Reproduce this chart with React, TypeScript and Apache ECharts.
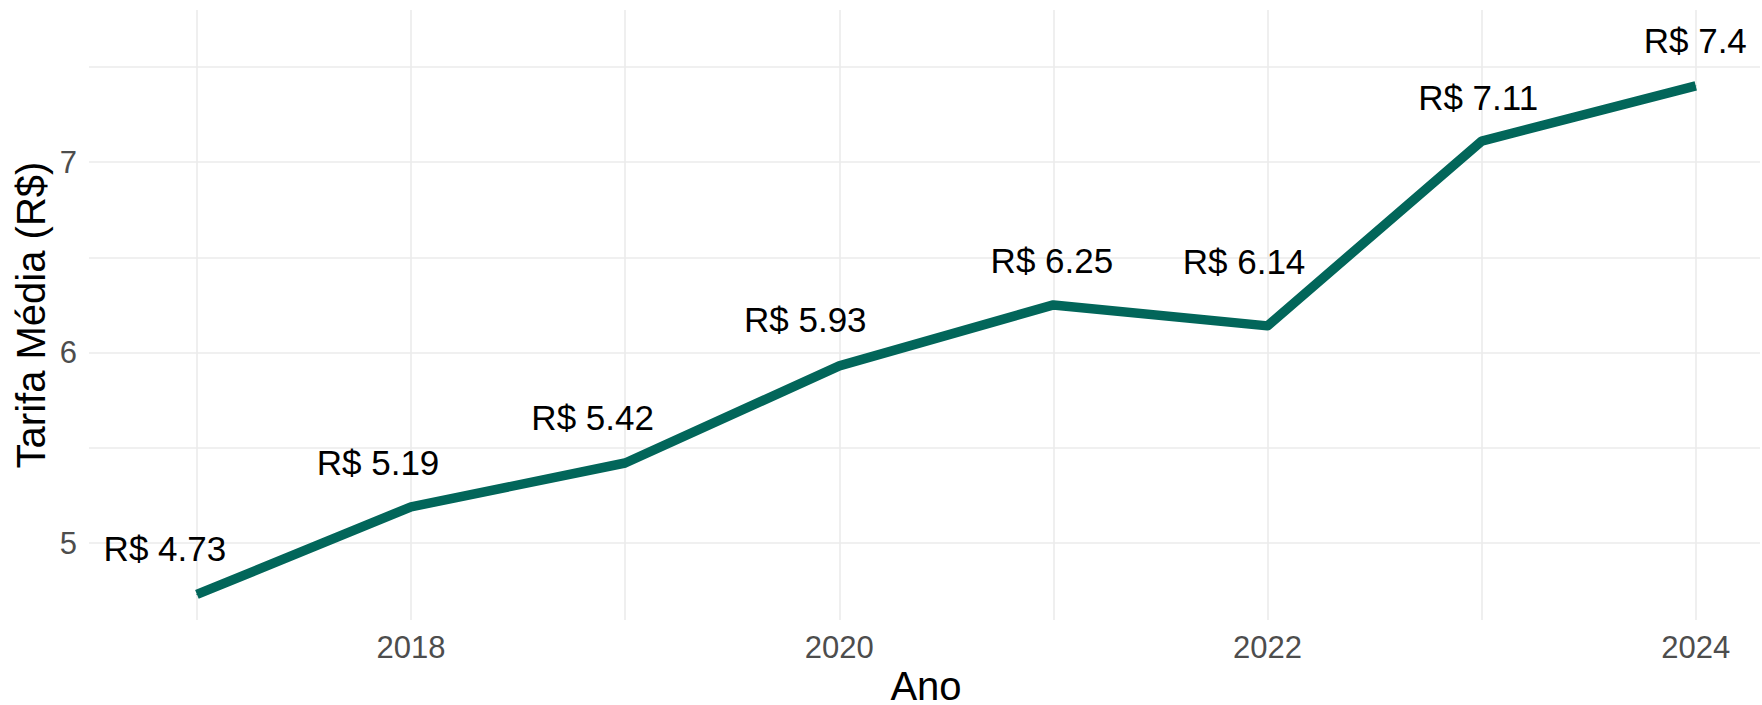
import React, { useEffect, useRef } from "react";
import * as echarts from "echarts";

// ---- data ----
const anos = [2017, 2018, 2019, 2020, 2021, 2022, 2023, 2024];
const tarifas = [4.73, 5.19, 5.42, 5.93, 6.25, 6.14, 7.11, 7.4];
const xTickLabels = [2018, 2020, 2022, 2024];
const yTickLabels = [5, 6, 7];
const xGridValues = [2017, 2018, 2019, 2020, 2021, 2022, 2023, 2024];
const yGridValues = [5, 5.5, 6, 6.5, 7, 7.5];
const xTitle = "Ano";
const yTitle = "Tarifa Média (R$)";

// label nudges (pixels) applied per point
const labelNudgeX = [-32, -33, -32.5, -34, -1.5, -23.5, -3.5, -0.5];
const labelNudgeY = [-46, -44.5, -46, -46, -44, -64, -44, -45];

const FONT = "'Liberation Sans', Arial, Helvetica, sans-serif";
const LINE_COLOR = "#02665a";
const GRID_COLOR = "#ebebeb";

export default function App() {
  const ref = useRef<HTMLDivElement>(null);

  useEffect(() => {
    if (!ref.current) return;
    const chart = echarts.init(ref.current, undefined, { renderer: "svg" });

    const seriesData = anos.map((a, i) => ({
      value: [a, tarifas[i]],
      label: { offset: [labelNudgeX[i], labelNudgeY[i]] },
    }));

    const gridLines = [
      ...xGridValues.map((v) => ({ xAxis: v })),
      ...yGridValues.map((v) => ({ yAxis: v })),
    ];

    chart.setOption({
      animation: false,
      backgroundColor: "#ffffff",
      grid: { left: 89, right: 2, top: 10, bottom: 85, containLabel: false },
      xAxis: {
        type: "value",
        min: 2016.496,
        max: 2024.3,
        axisLine: { show: false },
        axisTick: { show: false },
        splitLine: { show: false },
        axisLabel: {
          customValues: xTickLabels,
          color: "#4d4d4d",
          fontSize: 31,
          lineHeight: 31,
          fontFamily: FONT,
          margin: 12,
          formatter: (v: number) => String(v),
        },
      },
      yAxis: {
        type: "value",
        min: 4.596,
        max: 7.798,
        axisLine: { show: false },
        axisTick: { show: false },
        splitLine: { show: false },
        axisLabel: {
          customValues: yTickLabels,
          color: "#4d4d4d",
          fontSize: 31,
          fontFamily: FONT,
          margin: 12,
          formatter: (v: number) => String(v),
        },
      },
      series: [
        {
          type: "line",
          z: 1,
          data: anos.map((a, i) => [a, tarifas[i]]),
          symbol: "none",
          lineStyle: { width: 0, opacity: 0 },
          silent: true,
          emphasis: { disabled: true },
          markLine: {
            z: 1,
            silent: true,
            symbol: ["none", "none"],
            label: { show: false },
            emphasis: { disabled: true },
            lineStyle: { color: GRID_COLOR, width: 1.6, type: "solid" },
            data: gridLines,
          },
        },
        {
          type: "line",
          z: 10,
          data: seriesData,
          symbol: "circle",
          symbolSize: 1,
          showSymbol: true,
          itemStyle: { color: LINE_COLOR, borderWidth: 0 },
          lineStyle: { color: LINE_COLOR, width: 9.5, cap: "butt", join: "round" },
          emphasis: { disabled: true },
          label: {
            show: true,
            position: "inside",
            color: "#000000",
            textBorderWidth: 0,
            textBorderColor: "transparent",
            fontSize: 35,
            fontFamily: FONT,
            formatter: (p: any) => "R$ " + String(p.value[1]),
          },
        },
      ],
      graphic: [
        {
          type: "text",
          x: 926,
          y: 686,
          style: {
            text: xTitle,
            fill: "#000000",
            fontSize: 40,
            lineHeight: 36,
            fontFamily: FONT,
            align: "center",
            verticalAlign: "middle",
          },
        },
        {
          type: "text",
          x: 31,
          y: 315,
          rotation: Math.PI / 2,
          style: {
            text: yTitle,
            fill: "#000000",
            fontSize: 40,
            fontFamily: FONT,
            align: "center",
            verticalAlign: "middle",
          },
        },
      ],
    });

    return () => chart.dispose();
  }, []);

  return (
    <div
      ref={ref}
      style={{ position: "fixed", left: 0, top: 0, width: 1762, height: 705, background: "#fff" }}
    />
  );
}
